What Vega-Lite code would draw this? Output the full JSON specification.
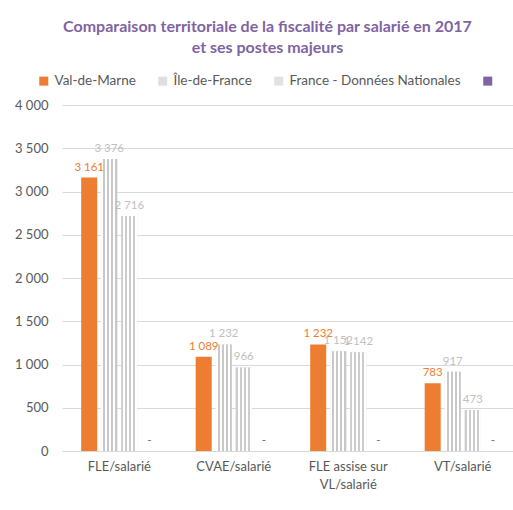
{
  "$schema": "https://vega.github.io/schema/vega-lite/v6.json",
  "width": 451,
  "height": 346,
  "autosize": {"type": "none"},
  "padding": {"left": 62, "top": 105, "right": 0, "bottom": 59},
  "background": "white",
  "config": {
    "locale": {"number": {"decimal": ",", "thousands": " ", "grouping": [3], "currency": ["", " €"]}},
    "font": "Lato",
    "view": {"stroke": null}
  },
  "title": {
    "text": ["Comparaison territoriale de la fiscalité par salarié en 2017", "et ses postes majeurs"],
    "color": "#8064A2",
    "font": "Lato",
    "fontSize": 16,
    "fontWeight": "bold",
    "anchor": "middle",
    "dx": -20,
    "offset": 18,
    "lineHeight": 21
  },
  "data": {
    "values": [
      {"category": "FLE/salarié", "series": "Val-de-Marne", "value": 3161},
      {"category": "FLE/salarié", "series": "Île-de-France", "value": 3376},
      {"category": "FLE/salarié", "series": "France - Données Nationales", "value": 2716},
      {"category": "FLE/salarié", "series": "Autre", "value": 0},
      {"category": "CVAE/salarié", "series": "Val-de-Marne", "value": 1089},
      {"category": "CVAE/salarié", "series": "Île-de-France", "value": 1232},
      {"category": "CVAE/salarié", "series": "France - Données Nationales", "value": 966},
      {"category": "CVAE/salarié", "series": "Autre", "value": 0},
      {"category": "FLE assise sur VL/salarié", "series": "Val-de-Marne", "value": 1232},
      {"category": "FLE assise sur VL/salarié", "series": "Île-de-France", "value": 1152},
      {"category": "FLE assise sur VL/salarié", "series": "France - Données Nationales", "value": 1142},
      {"category": "FLE assise sur VL/salarié", "series": "Autre", "value": 0},
      {"category": "VT/salarié", "series": "Val-de-Marne", "value": 783},
      {"category": "VT/salarié", "series": "Île-de-France", "value": 917},
      {"category": "VT/salarié", "series": "France - Données Nationales", "value": 473},
      {"category": "VT/salarié", "series": "Autre", "value": 0}
    ]
  },
  "encoding": {
    "x": {
      "field": "category",
      "type": "nominal",
      "sort": null,
      "scale": {"type": "band", "range": [0, 458], "paddingInner": 0.3, "paddingOuter": 0.15},
      "axis": {
        "title": null,
        "ticks": false,
        "grid": false,
        "domainColor": "#d9d9d9",
        "labelColor": "#595959",
        "labelFontSize": 13,
        "labelFont": "Lato",
        "labelPadding": 9,
        "labelAngle": 0,
        "labelLineHeight": 18,
        "labelExpr": "datum.label == 'FLE assise sur VL/salarié' ? ['FLE assise sur', 'VL/salarié'] : datum.label"
      }
    },
    "xOffset": {
      "field": "series",
      "type": "nominal",
      "scale": {"domain": ["Val-de-Marne", "Île-de-France", "France - Données Nationales", "Autre"], "paddingInner": 0.2, "paddingOuter": 0.1}
    },
    "y": {
      "field": "value",
      "type": "quantitative",
      "scale": {"domain": [0, 4000], "nice": false},
      "axis": {
        "title": null,
        "values": [0, 500, 1000, 1500, 2000, 2500, 3000, 3500, 4000],
        "format": ",.0f",
        "domain": false,
        "ticks": false,
        "labelColor": "#595959",
        "labelFontSize": 13,
        "labelFont": "Lato",
        "labelPadding": 14,
        "gridColor": "#d9d9d9",
        "gridWidth": 1
      }
    }
  },
  "layer": [
    {
      "mark": {"type": "bar"},
      "encoding": {
        "color": {
          "field": "series",
          "type": "nominal",
          "scale": {
            "domain": ["Val-de-Marne", "Île-de-France", "France - Données Nationales", "Autre"],
            "range": ["#ED7D31", "#dedede", "#e2e2e2", "#8064A2"]
          },
          "legend": {
            "orient": "none",
            "legendX": -25,
            "legendY": -31,
            "direction": "horizontal",
            "title": null,
            "symbolType": "square",
            "symbolSize": 81,
            "symbolStrokeWidth": 0,
            "labelFontSize": 13.5,
            "labelFont": "Lato",
            "labelColor": "#595959",
            "labelLimit": 400,
            "columnPadding": 20,
            "labelOffset": 4,
            "labelExpr": "datum.label == 'Autre' ? '' : datum.label"
          }
        }
      }
    },
    {
      "transform": [{"filter": "datum.series === 'Île-de-France'"}],
      "mark": {
        "type": "bar",
        "fill": {
          "gradient": "linear", "x1": 0, "y1": 0, "x2": 1, "y2": 0,
          "stops": [
            {"offset": 0, "color": "#ffffff"}, {"offset": 0.14, "color": "#ffffff"},
            {"offset": 0.14, "color": "#c8c8c8"}, {"offset": 0.25, "color": "#c8c8c8"},
            {"offset": 0.25, "color": "#ffffff"}, {"offset": 0.39, "color": "#ffffff"},
            {"offset": 0.39, "color": "#c8c8c8"}, {"offset": 0.5, "color": "#c8c8c8"},
            {"offset": 0.5, "color": "#ffffff"}, {"offset": 0.64, "color": "#ffffff"},
            {"offset": 0.64, "color": "#c8c8c8"}, {"offset": 0.75, "color": "#c8c8c8"},
            {"offset": 0.75, "color": "#ffffff"}, {"offset": 0.89, "color": "#ffffff"},
            {"offset": 0.89, "color": "#c8c8c8"}, {"offset": 1, "color": "#c8c8c8"}
          ]
        }
      }
    },
    {
      "transform": [{"filter": "datum.series === 'France - Données Nationales'"}],
      "mark": {
        "type": "bar",
        "fill": {
          "gradient": "linear", "x1": 0, "y1": 0, "x2": 1, "y2": 0,
          "stops": [
            {"offset": 0, "color": "#cccccc"}, {"offset": 0.11, "color": "#cccccc"},
            {"offset": 0.11, "color": "#ffffff"}, {"offset": 0.25, "color": "#ffffff"},
            {"offset": 0.25, "color": "#cccccc"}, {"offset": 0.36, "color": "#cccccc"},
            {"offset": 0.36, "color": "#ffffff"}, {"offset": 0.5, "color": "#ffffff"},
            {"offset": 0.5, "color": "#cccccc"}, {"offset": 0.61, "color": "#cccccc"},
            {"offset": 0.61, "color": "#ffffff"}, {"offset": 0.75, "color": "#ffffff"},
            {"offset": 0.75, "color": "#cccccc"}, {"offset": 0.86, "color": "#cccccc"},
            {"offset": 0.86, "color": "#ffffff"}, {"offset": 1, "color": "#ffffff"}
          ]
        }
      }
    },
    {
      "mark": {"type": "text", "baseline": "alphabetic", "dy": -7, "fontSize": 11.5, "font": "Lato"},
      "encoding": {
        "text": {
          "condition": {"test": "datum.value === 0", "value": "-"},
          "field": "value",
          "type": "quantitative",
          "format": ",.0f"
        },
        "color": {
          "condition": [
            {"test": "datum.series === 'Val-de-Marne'", "value": "#ED7D31"},
            {"test": "datum.series === 'Autre'", "value": "#7F5FA5"}
          ],
          "value": "#BFBFBF"
        }
      }
    }
  ]
}
